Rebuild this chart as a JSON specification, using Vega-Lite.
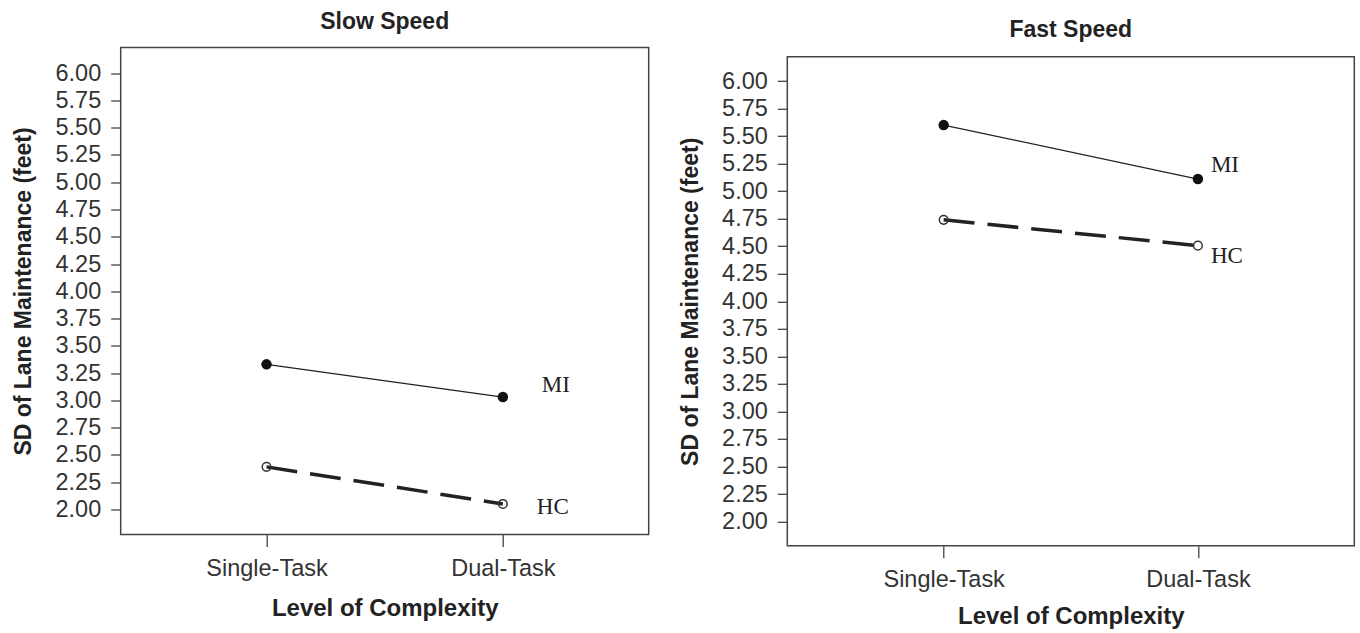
{
  "$schema": "https://vega.github.io/schema/vega-lite/v6.json",
  "background": "white",
  "padding": {"left": 11.7, "top": 9.5, "right": 0, "bottom": 0},
  "data": {"values": [
    {"speed": "Slow", "group": "MI", "complexity": "Single-Task", "sd": 3.33},
    {"speed": "Slow", "group": "MI", "complexity": "Dual-Task", "sd": 3.03},
    {"speed": "Slow", "group": "HC", "complexity": "Single-Task", "sd": 2.39},
    {"speed": "Slow", "group": "HC", "complexity": "Dual-Task", "sd": 2.05},
    {"speed": "Fast", "group": "MI", "complexity": "Single-Task", "sd": 5.6},
    {"speed": "Fast", "group": "MI", "complexity": "Dual-Task", "sd": 5.11},
    {"speed": "Fast", "group": "HC", "complexity": "Single-Task", "sd": 4.74},
    {"speed": "Fast", "group": "HC", "complexity": "Dual-Task", "sd": 4.505}
  ]},
  "spacing": 28.6,
  "hconcat": [
    {
      "width": 528,
      "height": 487,
      "title": {"text": "Slow Speed", "offset": 14},
      "transform": [{"filter": "datum.speed === 'Slow'"}],
      "encoding": {
        "x": {"field": "complexity", "type": "ordinal", "sort": ["Single-Task", "Dual-Task"], "scale": {"type": "point", "padding": 0.617}, "title": "Level of Complexity"},
        "y": {"field": "sd", "type": "quantitative", "scale": {"domain": [1.77, 6.235], "nice": false, "zero": false}, "title": "SD of Lane Maintenance (feet)", "axis": {"values": [2, 2.25, 2.5, 2.75, 3, 3.25, 3.5, 3.75, 4, 4.25, 4.5, 4.75, 5, 5.25, 5.5, 5.75, 6], "format": ".2f", "labelOverlap": false}}
      },
      "layer": [
        {"transform": [{"filter": "datum.group === 'MI'"}], "mark": {"type": "line", "color": "#222", "strokeWidth": 1.3}},
        {"transform": [{"filter": "datum.group === 'HC'"}], "mark": {"type": "line", "color": "#222", "strokeWidth": 3.5, "strokeDash": [31, 13]}},
        {"transform": [{"filter": "datum.group === 'MI'"}], "mark": {"type": "point", "shape": "circle", "filled": true, "color": "#111", "size": 110, "opacity": 1}},
        {"transform": [{"filter": "datum.group === 'HC'"}], "mark": {"type": "point", "shape": "circle", "filled": false, "stroke": "#333", "strokeWidth": 1.5, "size": 75, "opacity": 1}},
        {"transform": [{"filter": "datum.group === 'MI' && datum.complexity === 'Dual-Task'"}], "mark": {"type": "text", "align": "left", "baseline": "middle", "dx": 39, "dy": -12.5, "font": "Liberation Serif", "fontSize": 23, "color": "#222"}, "encoding": {"text": {"field": "group"}}},
        {"transform": [{"filter": "datum.group === 'HC' && datum.complexity === 'Dual-Task'"}], "mark": {"type": "text", "align": "left", "baseline": "middle", "dx": 34, "dy": 3, "font": "Liberation Serif", "fontSize": 23, "color": "#222"}, "encoding": {"text": {"field": "group"}}}
      ]
    },
    {
      "spacing": 7.3,
      "vconcat": [
        {
          "width": 567,
          "height": 1,
          "title": {"text": "Fast Speed", "offset": 5.5},
          "view": {"stroke": null},
          "data": {"values": []},
          "mark": {"type": "rule", "opacity": 0},
          "encoding": {}
        },
        {
          "width": 567,
          "height": 489,
          "transform": [{"filter": "datum.speed === 'Fast'"}],
          "encoding": {
            "x": {"field": "complexity", "type": "ordinal", "sort": ["Single-Task", "Dual-Task"], "scale": {"type": "point", "padding": 0.615}, "title": "Level of Complexity", "axis": {"titlePadding": 13}},
            "y": {"field": "sd", "type": "quantitative", "scale": {"domain": [1.78, 6.22], "nice": false, "zero": false}, "title": "SD of Lane Maintenance (feet)", "axis": {"values": [2, 2.25, 2.5, 2.75, 3, 3.25, 3.5, 3.75, 4, 4.25, 4.5, 4.75, 5, 5.25, 5.5, 5.75, 6], "format": ".2f", "labelOverlap": false}}
          },
          "layer": [
            {"transform": [{"filter": "datum.group === 'MI'"}], "mark": {"type": "line", "color": "#222", "strokeWidth": 1.3}},
            {"transform": [{"filter": "datum.group === 'HC'"}], "mark": {"type": "line", "color": "#222", "strokeWidth": 3.5, "strokeDash": [31, 13]}},
            {"transform": [{"filter": "datum.group === 'MI'"}], "mark": {"type": "point", "shape": "circle", "filled": true, "color": "#111", "size": 110, "opacity": 1}},
            {"transform": [{"filter": "datum.group === 'HC'"}], "mark": {"type": "point", "shape": "circle", "filled": false, "stroke": "#333", "strokeWidth": 1.5, "size": 75, "opacity": 1}},
            {"transform": [{"filter": "datum.group === 'MI' && datum.complexity === 'Dual-Task'"}], "mark": {"type": "text", "align": "left", "baseline": "middle", "dx": 13, "dy": -14.5, "font": "Liberation Serif", "fontSize": 23, "color": "#222"}, "encoding": {"text": {"field": "group"}}},
            {"transform": [{"filter": "datum.group === 'HC' && datum.complexity === 'Dual-Task'"}], "mark": {"type": "text", "align": "left", "baseline": "middle", "dx": 13, "dy": 10, "font": "Liberation Serif", "fontSize": 23, "color": "#222"}, "encoding": {"text": {"field": "group"}}}
          ]
        }
      ]
    }
  ],
  "config": {
    "view": {"stroke": "#444", "strokeWidth": 1.5},
    "title": {"font": "Liberation Sans", "fontSize": 23, "fontWeight": "bold", "color": "#222", "baseline": "bottom", "anchor": "middle"},
    "axis": {"domain": false, "grid": false, "tickColor": "#444", "tickWidth": 1.3, "labelFont": "Liberation Sans", "labelFontSize": 23.5, "labelColor": "#333", "labelOverlap": false, "titleFont": "Liberation Sans", "titleFontWeight": "bold", "titleColor": "#222"},
    "axisY": {"tickSize": 10, "labelPadding": 10, "titlePadding": 19, "titleFontSize": 23},
    "axisX": {"tickSize": 12, "labelPadding": 10, "titlePadding": 16.5, "titleFontSize": 24, "labelAngle": 0}
  }
}
